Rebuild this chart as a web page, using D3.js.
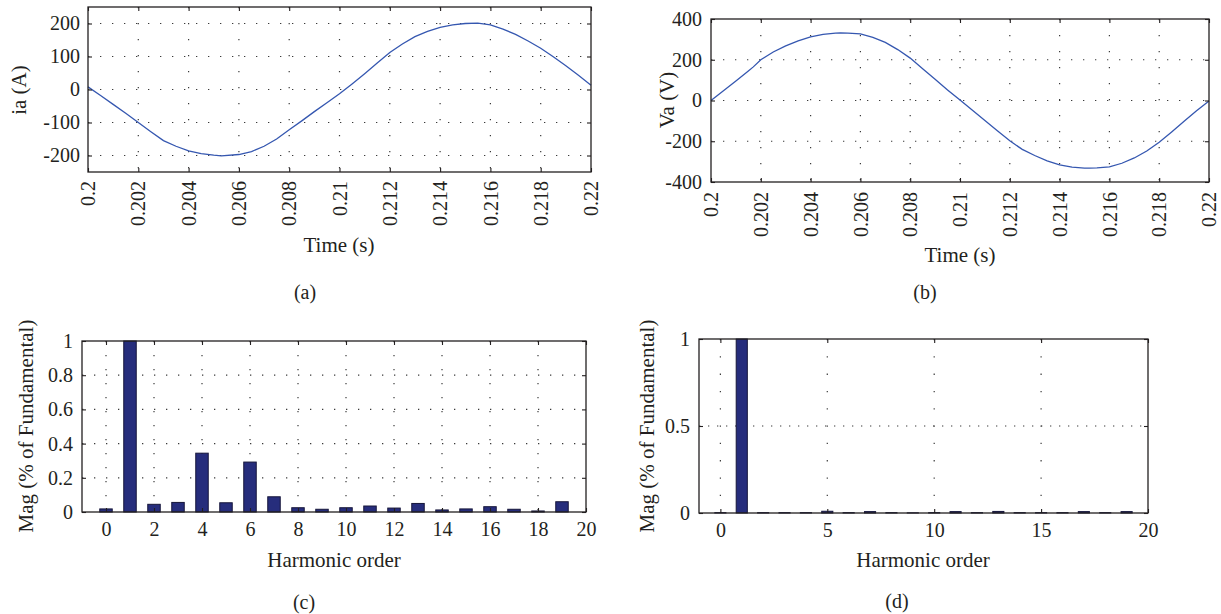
<!DOCTYPE html>
<html><head><meta charset="utf-8">
<script src="https://cdn.jsdelivr.net/npm/d3@7"></script>
<style>
body{margin:0;background:#fff;}
svg{display:block;font-family:"Liberation Serif","Times New Roman",serif;}
</style></head><body>
<svg id="c" width="1221" height="614"></svg>
<script>
// ---------- data ----------
const timeTicks = [0.2,0.202,0.204,0.206,0.208,0.21,0.212,0.214,0.216,0.218,0.22];
const timeTickLabels = ["0.2","0.202","0.204","0.206","0.208","0.21","0.212","0.214","0.216","0.218","0.22"];
const iaTicks = [-200,-100,0,100,200];
const iaTickLabels = ["-200","-100","0","100","200"];
const vaTicks = [-400,-200,0,200,400];
const vaTickLabels = ["-400","-200","0","200","400"];

const iaTime = [0.2,0.2005,0.201,0.2015,0.202,0.2025,0.203,0.2035,0.204,0.2045,0.205,0.2053,0.206,0.2065,0.207,0.2075,0.208,0.2085,0.209,0.2095,0.21,0.2105,0.211,0.2115,0.212,0.2125,0.213,0.2135,0.214,0.2145,0.215,0.2155,0.216,0.2165,0.217,0.2175,0.218,0.2185,0.219,0.2195,0.22];
const iaValues = [8,-18,-45,-72,-100,-128,-155,-172,-186,-194,-199,-201,-197,-188,-172,-150,-122,-95,-67,-40,-13,17,48,80,112,138,160,176,188,196,200,201,196,183,167,147,125,99,72,43,13];

const vaTime = [0.2,0.2005,0.201,0.2015,0.2017,0.202,0.2025,0.203,0.2035,0.204,0.2045,0.205,0.2052,0.2055,0.206,0.2065,0.207,0.2075,0.208,0.2085,0.209,0.2095,0.21,0.2105,0.211,0.2115,0.212,0.2122,0.2125,0.213,0.2135,0.214,0.2145,0.215,0.2152,0.2155,0.216,0.2165,0.217,0.2175,0.218,0.2185,0.219,0.2195,0.22];
const vaValues = [0,48,96,145,165,200,238,268,293,312,325,331,332,331,327,310,285,250,208,156,104,52,2,-48,-98,-148,-198,-215,-240,-270,-296,-316,-327,-332,-332,-331,-326,-308,-282,-248,-205,-154,-102,-50,-2];

const harmonicOrders = [0,1,2,3,4,5,6,7,8,9,10,11,12,13,14,15,16,17,18,19,20];
const magC = [0.018,1.0,0.045,0.056,0.344,0.054,0.292,0.089,0.025,0.016,0.025,0.035,0.023,0.05,0.012,0.018,0.031,0.016,0.006,0.06,0];
const magD = [0.002,1.0,0.002,0.002,0.002,0.01,0.002,0.008,0.002,0.001,0.002,0.008,0.002,0.009,0.002,0.002,0.002,0.008,0.002,0.008,0];
const orderTicksC = [0,2,4,6,8,10,12,14,16,18,20];
const orderTicksD = [0,5,10,15,20];
const magTicksC = [0,0.2,0.4,0.6,0.8,1];
const magTickLabelsC = ["0","0.2","0.4","0.6","0.8","1"];
const magTicksD = [0,0.5,1];
const magTickLabelsD = ["0","0.5","1"];

// ---------- drawing ----------
const svg = d3.select("#c");
const INK = "#231f20";
const LINE = "#3557b0";
const BAR = "#262d7c";

function frame(g, x, y, box, opt){
  const grid = g.append("g");
  grid.selectAll(".gx").data(opt.xGrid).join("line")
    .attr("x1", d=>x(d)).attr("x2", d=>x(d)).attr("y1", box.y0).attr("y2", box.y1)
    .attr("stroke", "#3a3a3a").attr("stroke-width", 1.2).attr("stroke-dasharray", opt.vDash);
  grid.selectAll(".gy").data(opt.yGrid).join("line")
    .attr("x1", box.x0).attr("x2", box.x1).attr("y1", d=>y(d)).attr("y2", d=>y(d))
    .attr("stroke", "#3a3a3a").attr("stroke-width", 1.2).attr("stroke-dasharray", opt.hDash);
}

function axes(g, x, y, box, opt){
  const ax = g.append("g").attr("transform", `translate(0,${box.y1})`)
    .call(d3.axisBottom(x).tickValues(opt.xTicks).tickFormat((d,i)=>opt.xLabels[i]).tickSize(-4).tickPadding(opt.xPad));
  const axTop = g.append("g").attr("transform", `translate(0,${box.y0})`)
    .call(d3.axisTop(x).tickValues(opt.xTicks).tickFormat("").tickSize(-4));
  const ay = g.append("g").attr("transform", `translate(${box.x0},0)`)
    .call(d3.axisLeft(y).tickValues(opt.yTicks).tickFormat((d,i)=>opt.yLabels[i]).tickSize(-4).tickPadding(opt.yPad));
  const ayR = g.append("g").attr("transform", `translate(${box.x1},0)`)
    .call(d3.axisRight(y).tickValues(opt.yTicks).tickFormat("").tickSize(-4));
  [ax,axTop,ay,ayR].forEach(a=>{
    a.select(".domain").remove();
    a.selectAll(".tick line").attr("stroke", INK).attr("stroke-width", 1.1);
    a.selectAll("text").attr("fill", INK).attr("font-size", 20).attr("font-family", '"Liberation Serif","Times New Roman",serif');
  });
  if(opt.rotate){
    ax.selectAll(".tick text")
      .attr("transform", "rotate(-90)")
      .attr("text-anchor", "end")
      .attr("x", -opt.xPad).attr("y", 0).attr("dy", "0.33em");
  }
  g.append("rect").attr("x", box.x0).attr("y", box.y0)
    .attr("width", box.x1-box.x0).attr("height", box.y1-box.y0)
    .attr("fill", "none").attr("stroke", INK).attr("stroke-width", 1.3);
}

function text(x, y, s, rot, size){
  const t = svg.append("text").attr("fill", INK).attr("font-size", size || 21)
    .attr("text-anchor", "middle").text(s);
  if(rot) t.attr("transform", `translate(${x},${y}) rotate(-90)`);
  else t.attr("x", x).attr("y", y);
  return t;
}

// ---- (a) ----
{
  const box = {x0:88, x1:591, y0:7, y1:172};
  const x = d3.scaleLinear().domain([0.2,0.22]).range([box.x0, box.x1]);
  const y = d3.scaleLinear().domain([-250,250]).range([box.y1, box.y0]);
  const g = svg.append("g");
  frame(g, x, y, box, {xGrid: timeTicks.slice(1,-1), yGrid: iaTicks, vDash:"1.3,14.7", hDash:"1.3,10.7"});
  g.append("path").datum(iaTime.map((t,i)=>[t, iaValues[i]]))
    .attr("d", d3.line().x(d=>x(d[0])).y(d=>y(d[1])))
    .attr("fill","none").attr("stroke", LINE).attr("stroke-width", 1.3);
  axes(g, x, y, box, {xTicks: timeTicks, xLabels: timeTickLabels, yTicks: iaTicks, yLabels: iaTickLabels, xPad: 9, yPad: 8, rotate: true});
  text(339, 252, "Time (s)");
  text(26, 90, "ia (A)", true);
  text(305, 299, "(a)", false, 20);
}
// ---- (b) ----
{
  const box = {x0:711, x1:1209, y0:19, y1:182};
  const x = d3.scaleLinear().domain([0.2,0.22]).range([box.x0, box.x1]);
  const y = d3.scaleLinear().domain([-400,400]).range([box.y1, box.y0]);
  const g = svg.append("g");
  frame(g, x, y, box, {xGrid: timeTicks.slice(1,-1), yGrid: vaTicks.slice(1,-1), vDash:"1.3,14.7", hDash:"1.3,10.7"});
  g.append("path").datum(vaTime.map((t,i)=>[t, vaValues[i]]))
    .attr("d", d3.line().x(d=>x(d[0])).y(d=>y(d[1])))
    .attr("fill","none").attr("stroke", LINE).attr("stroke-width", 1.3);
  axes(g, x, y, box, {xTicks: timeTicks, xLabels: timeTickLabels, yTicks: vaTicks, yLabels: vaTickLabels, xPad: 10, yPad: 9, rotate: true});
  text(960, 262, "Time (s)");
  text(674, 100, "Va (V)", true);
  text(925, 299, "(b)", false, 20);
}
// ---- (c) ----
{
  const box = {x0:82, x1:586, y0:341, y1:512};
  const x = d3.scaleLinear().domain([-1,20]).range([box.x0, box.x1]);
  const y = d3.scaleLinear().domain([0,1]).range([box.y1, box.y0]);
  const g = svg.append("g");
  frame(g, x, y, box, {xGrid: orderTicksC.slice(0,-1), yGrid: magTicksC.slice(1,-1), vDash:"1.3,12.7", hDash:"1.3,10.7"});
  const bw = 0.26;
  g.selectAll(".bar").data(harmonicOrders.map((h,i)=>({h, v: magC[i]})).filter(d=>d.v>0)).join("rect")
    .attr("x", d=>x(d.h-bw)).attr("width", d=>x(d.h+bw)-x(d.h-bw))
    .attr("y", d=>y(d.v)).attr("height", d=>y(0)-y(d.v))
    .attr("fill", BAR).attr("stroke", "#16163a").attr("stroke-width", 1);
  axes(g, x, y, box, {xTicks: orderTicksC, xLabels: orderTicksC.map(String), yTicks: magTicksC, yLabels: magTickLabelsC, xPad: 10, yPad: 9, rotate: false});
  text(334, 567, "Harmonic order");
  text(33, 426, "Mag (% of Fundamental)", true);
  text(304, 609, "(c)", false, 20);
}
// ---- (d) ----
{
  const box = {x0:699, x1:1148, y0:339, y1:513};
  const x = d3.scaleLinear().domain([-1,20]).range([box.x0, box.x1]);
  const y = d3.scaleLinear().domain([0,1]).range([box.y1, box.y0]);
  const g = svg.append("g");
  frame(g, x, y, box, {xGrid: orderTicksD.slice(0,-1), yGrid: [0.5], vDash:"1.3,16", hDash:"1.3,7.7"});
  const bw = 0.26;
  g.selectAll(".bar").data(harmonicOrders.map((h,i)=>({h, v: magD[i]})).filter(d=>d.v>0)).join("rect")
    .attr("x", d=>x(d.h-bw)).attr("width", d=>x(d.h+bw)-x(d.h-bw))
    .attr("y", d=>y(d.v)).attr("height", d=>y(0)-y(d.v))
    .attr("fill", BAR).attr("stroke", "#16163a").attr("stroke-width", 1);
  axes(g, x, y, box, {xTicks: orderTicksD, xLabels: orderTicksD.map(String), yTicks: magTicksD, yLabels: magTickLabelsD, xPad: 10, yPad: 9, rotate: false});
  text(923, 567, "Harmonic order");
  text(654, 426, "Mag (% of Fundamental)", true);
  text(897, 608, "(d)", false, 20);
}
</script>
</body></html>
